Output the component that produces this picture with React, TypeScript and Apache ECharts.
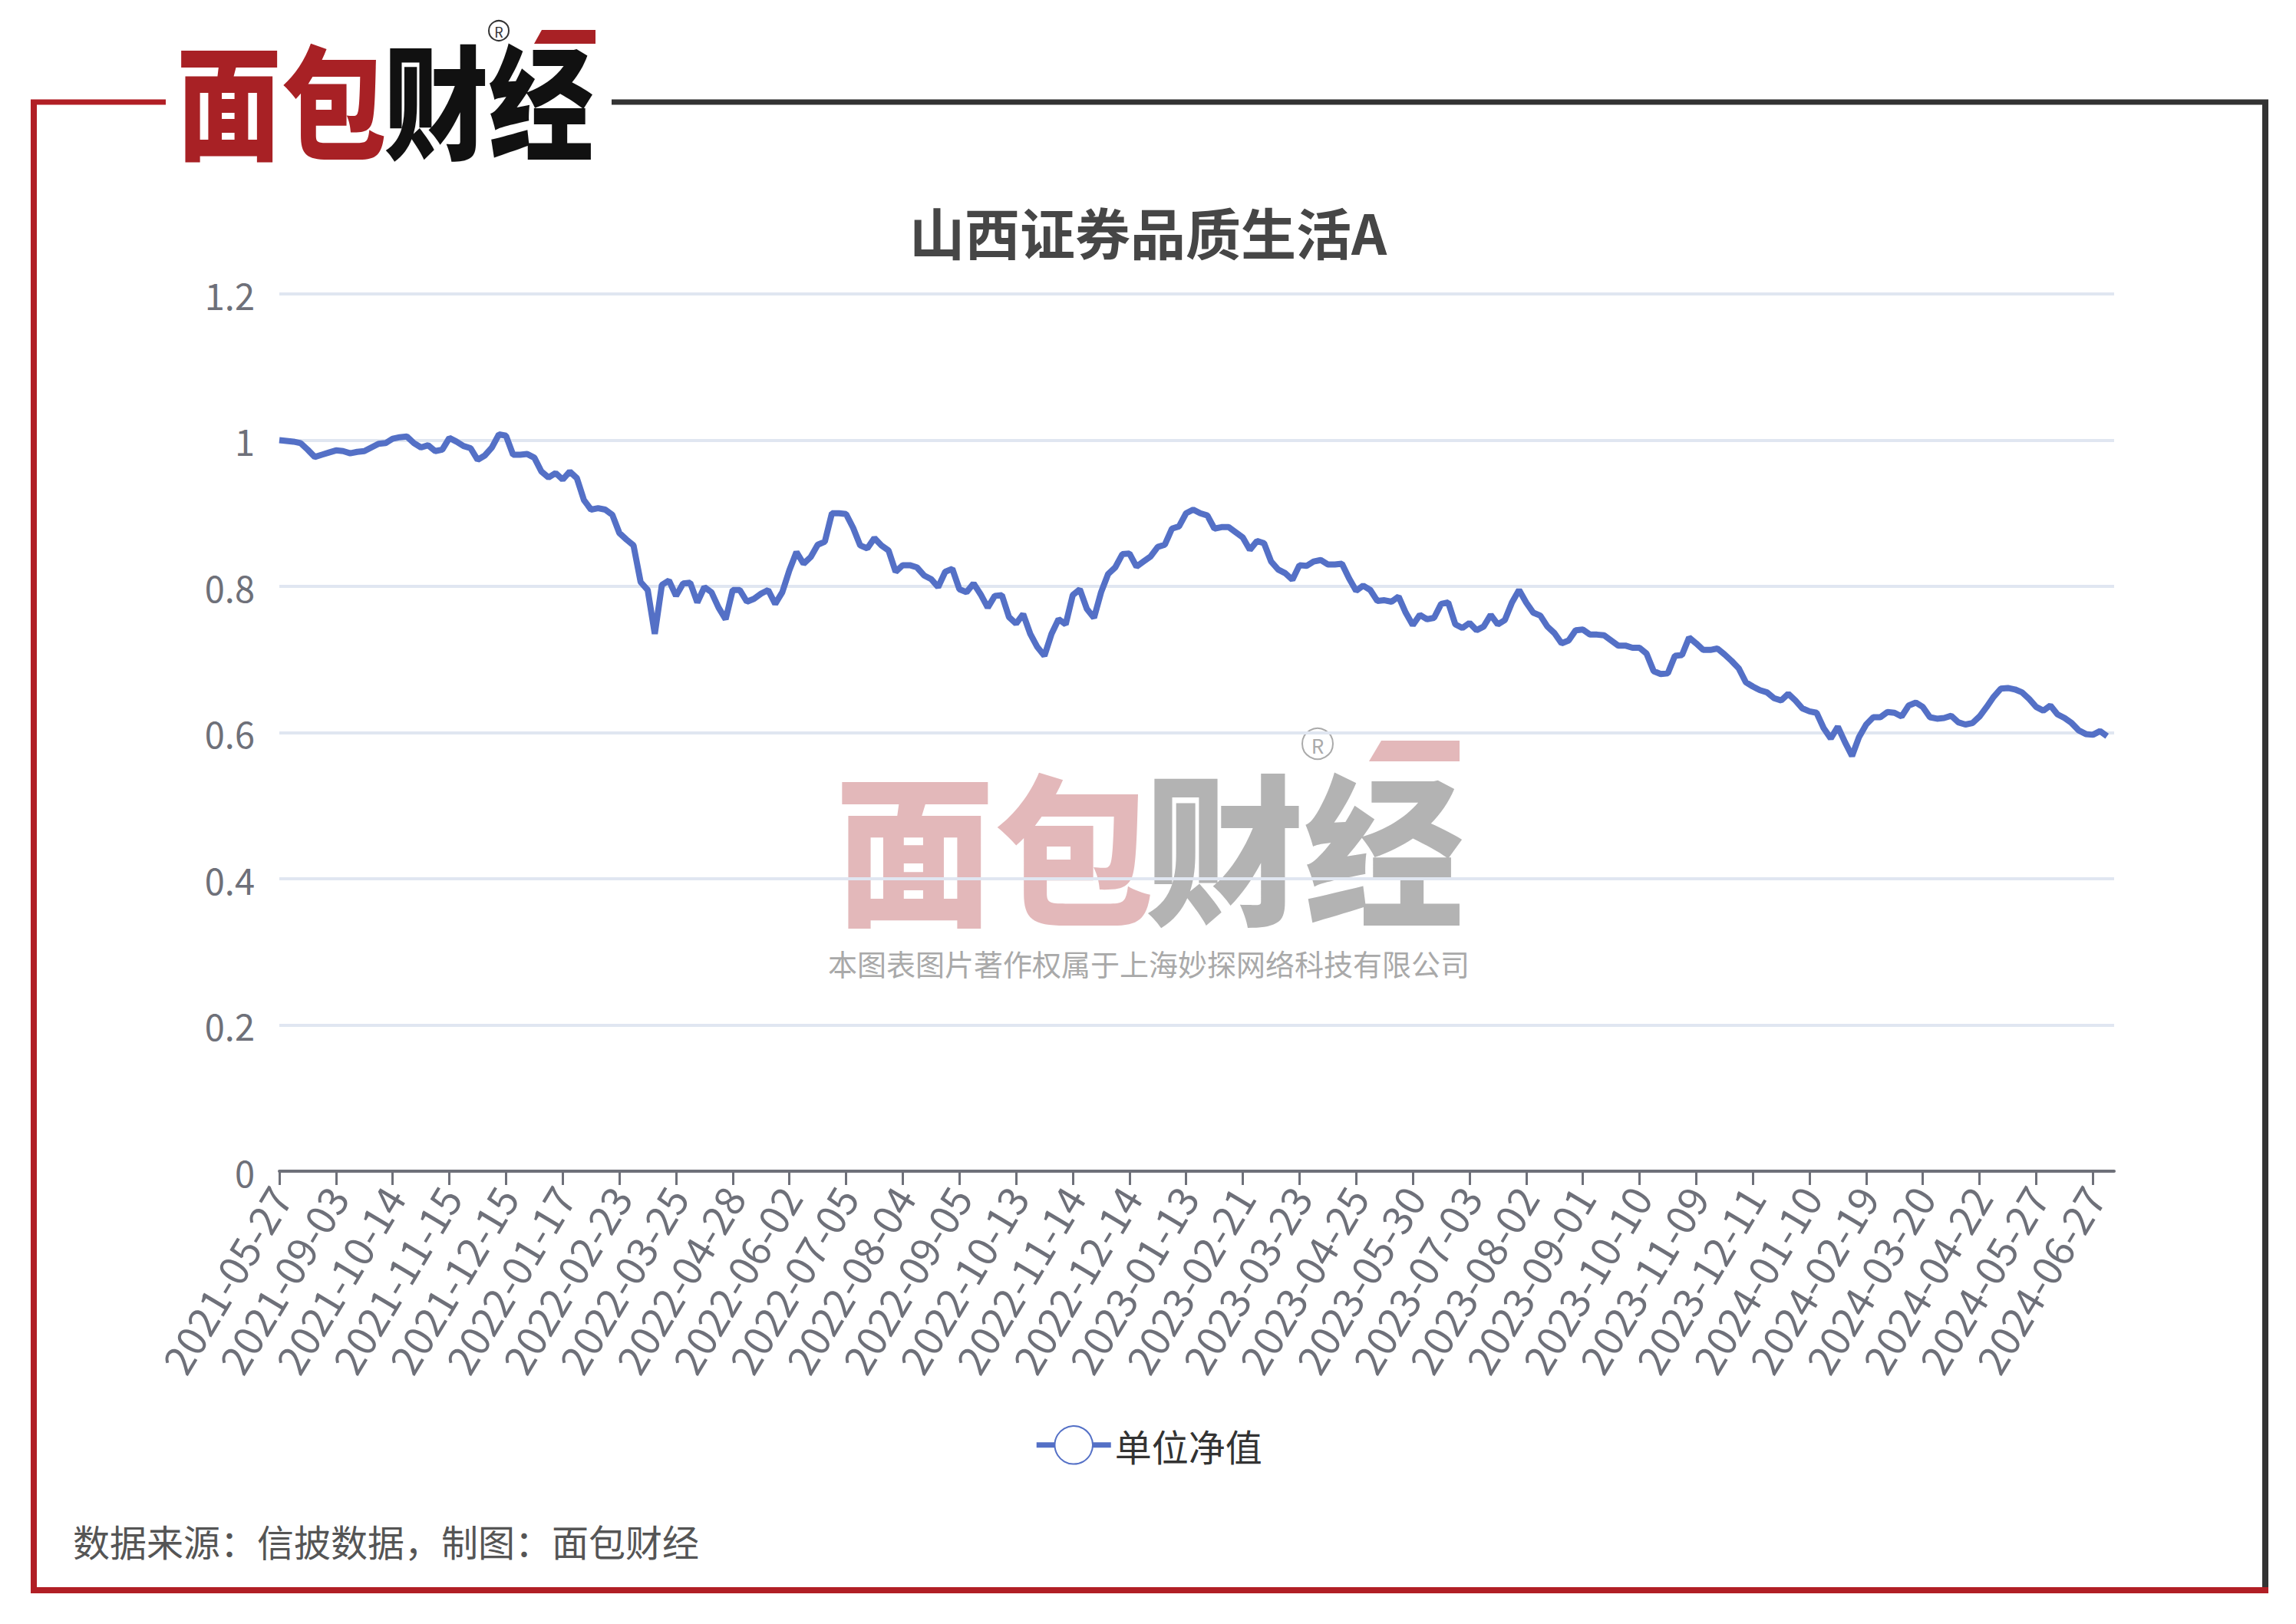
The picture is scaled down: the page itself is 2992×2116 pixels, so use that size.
import React, { useEffect, useRef } from 'react';
import * as echarts from 'echarts';

const chartTitle = '山西证券品质生活A';
const seriesName = '单位净值';
const sourceNote = '数据来源：信披数据，制图：面包财经';
const watermarkNote = '本图表图片著作权属于上海妙探网络科技有限公司';

const tickLabels = [
  '2021-05-27', '2021-09-03', '2021-10-14', '2021-11-15', '2021-12-15', '2022-01-17',
  '2022-02-23', '2022-03-25', '2022-04-28', '2022-06-02', '2022-07-05', '2022-08-04',
  '2022-09-05', '2022-10-13', '2022-11-14', '2022-12-14', '2023-01-13', '2023-02-21',
  '2023-03-23', '2023-04-25', '2023-05-30', '2023-07-03', '2023-08-02', '2023-09-01',
  '2023-10-10', '2023-11-09', '2023-12-11', '2024-01-10', '2024-02-19', '2024-03-20',
  '2024-04-22', '2024-05-27', '2024-06-27',
];
const pointsPerTick = 8;

const yMin = 0;
const yMax = 1.2;
const yStep = 0.2;

const navValues: (number | null)[] = [
  1.000, 0.999, 0.998, 0.996, 0.987, 0.977, 0.980, 0.983, 0.986, 0.985,
  0.982, 0.984, 0.985, 0.990, 0.995, 0.996, 1.002, 1.004, 1.005, 0.996,
  0.990, 0.993, 0.985, 0.987, 1.003, 0.998, 0.992, 0.989, 0.973, 0.979,
  0.990, 1.008, 1.006, 0.980, 0.980, 0.981, 0.976, 0.957, 0.949, 0.955,
  0.946, 0.957, 0.948, 0.918, 0.905, 0.907, 0.905, 0.898, 0.873, 0.864,
  0.856, 0.806, 0.795, 0.735, 0.802, 0.808, 0.787, 0.804, 0.805, 0.778,
  0.799, 0.792, 0.771, 0.755, 0.795,
  0.795, 0.779, 0.783, 0.790, 0.795, 0.776, 0.792, 0.822, 0.847, 0.831,
  0.840, 0.857, 0.861, 0.900, 0.900, 0.899, 0.880, 0.856, 0.852, 0.866,
  0.856, 0.849, 0.820, 0.829, 0.829, 0.826, 0.815, 0.810, 0.799, 0.820,
  0.824, 0.796, 0.792, 0.804, 0.789, 0.771, 0.787, 0.788, 0.758, 0.749,
  0.762, 0.735, 0.717, 0.705, 0.735, 0.755, 0.748, 0.788, 0.796, 0.769,
  0.757, 0.792, 0.817, 0.826, 0.844, 0.845, 0.827, 0.834, 0.841, 0.854,
  0.857, 0.879, 0.882, 0.900, 0.905,
  0.900, 0.897, 0.879, 0.881, 0.881, 0.874, 0.867, 0.850, 0.862, 0.859,
  0.834, 0.823, 0.818, 0.809, 0.829, 0.828, 0.834, 0.836, 0.830, 0.830,
  0.831, 0.811, 0.794, 0.801, 0.795, 0.780, 0.781, 0.779, 0.786, 0.764,
  0.747, 0.761, 0.755, 0.757, 0.776, 0.778, 0.748, 0.743, 0.750, 0.740,
  0.745, 0.761, 0.748, 0.754, 0.778, 0.795, 0.778, 0.764, 0.760, 0.745,
  0.736, 0.722, 0.726, 0.740, 0.741, 0.734, 0.734, 0.733, 0.726, 0.719,
  0.719, 0.716, 0.716, 0.708, 0.684,
  0.680, 0.681, 0.705, 0.706, 0.730, 0.722, 0.713, 0.713, 0.715, 0.707,
  0.698, 0.688, 0.669, 0.663, 0.658, 0.655, 0.647, 0.644, 0.653, 0.644,
  0.633, 0.629, 0.627, 0.606, 0.592, 0.608, 0.587, 0.568, 0.594, 0.611,
  0.621, 0.621, 0.628, 0.627, 0.622, 0.637, 0.641, 0.635, 0.621, 0.619,
  0.620, 0.623, 0.614, 0.611, 0.613, 0.622, 0.635, 0.649, 0.660, 0.661,
  0.659, 0.655, 0.646, 0.635, 0.630, 0.637, 0.625, 0.620, 0.613, 0.603,
  0.598, 0.597, 0.602, 0.595, null,
];

const categories = navValues.map((_, i) =>
  i % pointsPerTick === 0 && tickLabels[i / pointsPerTick] ? tickLabels[i / pointsPerTick] : ''
);

const FONT = '"Noto Sans CJK SC", "Noto Sans", sans-serif';
const RED = '#b11f25';
const DARK = '#333333';
const LINE_BLUE = '#5470c6';

export default function App() {
  const ref = useRef<HTMLDivElement>(null);

  useEffect(() => {
    if (!ref.current) return;
    const chart = echarts.init(ref.current, null, { renderer: 'svg' });

    const option: any = {
      animation: false,
      backgroundColor: '#ffffff',
      textStyle: { fontFamily: FONT },
      title: {
        text: chartTitle,
        left: 'center',
        top: 264,
        padding: 0,
        textStyle: { fontSize: 72, fontWeight: 'bold', color: '#464646', fontFamily: FONT },
      },
      legend: {
        data: [seriesName],
        left: 'center',
        top: 1852,
        itemWidth: 97,
        itemHeight: 62,
        itemGap: 20,
        lineStyle: { width: 7 },
        itemStyle: { borderWidth: 7 },
        textStyle: { fontSize: 48, color: '#333', fontFamily: FONT },
      },
      grid: { left: 364, right: 237, top: 383, bottom: 590, containLabel: false },
      xAxis: {
        type: 'category',
        boundaryGap: false,
        data: categories,
        axisLine: { lineStyle: { color: '#6E7079', width: 4 } },
        axisTick: { interval: pointsPerTick - 1, length: 18, lineStyle: { width: 3, color: '#6E7079' } },
        axisLabel: {
          interval: pointsPerTick - 1,
          rotate: 59,
          fontSize: 53,
          color: '#6E7079',
          margin: 24,
          fontFamily: FONT,
        },
        splitLine: { show: false },
      },
      yAxis: {
        type: 'value',
        min: yMin,
        max: yMax,
        interval: yStep,
        axisLine: { show: false },
        axisTick: { show: false },
        axisLabel: { fontSize: 47, color: '#6E7079', margin: 32, fontFamily: FONT },
        splitLine: { lineStyle: { color: '#E0E6F1', width: 4 } },
      },
      series: [
        {
          name: seriesName,
          type: 'line',
          data: navValues,
          showSymbol: false,
          symbol: 'emptyCircle',
          symbolSize: 16,
          connectNulls: false,
          lineStyle: { width: 8, color: LINE_BLUE },
          itemStyle: { color: LINE_BLUE, borderWidth: 7 },
          z: 5,
        },
      ],
      graphic: [
        // frame
        { type: 'line', shape: { x1: 40, y1: 133, x2: 216, y2: 133 }, style: { stroke: RED, lineWidth: 7 } },
        { type: 'line', shape: { x1: 44, y1: 130, x2: 44, y2: 2076 }, style: { stroke: RED, lineWidth: 8 } },
        { type: 'line', shape: { x1: 797, y1: 133, x2: 2956, y2: 133 }, style: { stroke: DARK, lineWidth: 7 } },
        { type: 'line', shape: { x1: 2952, y1: 130, x2: 2952, y2: 2070 }, style: { stroke: DARK, lineWidth: 8 } },
        { type: 'line', shape: { x1: 40, y1: 2072, x2: 2956, y2: 2072 }, style: { stroke: RED, lineWidth: 8 } },
        // top logo
        {
          type: 'group',
          x: 230,
          y: 126,
          scaleX: 0.9,
          scaleY: 1.06,
          children: [
            { type: 'text', x: 0, y: 0, style: { text: '面包', fontSize: 152, lineHeight: 140, fontWeight: 900, fontFamily: FONT, fill: '#a82125', textVerticalAlign: 'middle' } },
            { type: 'text', x: 300, y: 0, style: { text: '财经', fontSize: 152, lineHeight: 140, fontWeight: 900, fontFamily: FONT, fill: '#111111', textVerticalAlign: 'middle' } },
          ],
        },
        { type: 'circle', shape: { cx: 650, cy: 40, r: 13 }, style: { fill: '#fff', stroke: '#333', lineWidth: 2 } },
        { type: 'text', x: 650, y: 41, style: { text: 'R', fontSize: 18, fontFamily: FONT, fill: '#333', textAlign: 'center', textVerticalAlign: 'middle' } },
        { type: 'polygon', shape: { points: [[706, 39], [776, 39], [776, 57], [696, 57]] }, style: { fill: '#a82125' } },
        // watermark
        {
          type: 'group',
          x: 1088,
          y: 1098,
          scaleX: 0.98,
          children: [
            { type: 'text', x: 0, y: 0, style: { text: '面包', fontSize: 212, lineHeight: 180, fontWeight: 900, fontFamily: FONT, fill: 'rgba(185,77,82,0.4)', textVerticalAlign: 'middle' } },
            { type: 'text', x: 412, y: 0, style: { text: '财经', fontSize: 212, lineHeight: 180, fontWeight: 900, fontFamily: FONT, fill: 'rgba(110,110,110,0.52)', textVerticalAlign: 'middle' } },
          ],
        },
        { type: 'circle', shape: { cx: 1717, cy: 969, r: 20 }, style: { fill: 'none', stroke: '#aaaaaa', lineWidth: 2 } },
        { type: 'text', x: 1717, y: 970, style: { text: 'R', fontSize: 26, fontFamily: FONT, fill: '#aaaaaa', textAlign: 'center', textVerticalAlign: 'middle' } },
        { type: 'polygon', shape: { points: [[1800, 965], [1902, 965], [1902, 992], [1784, 992]] }, style: { fill: 'rgba(185,77,82,0.4)' } },
        { type: 'text', x: 1497, y: 1254, style: { text: watermarkNote, fontSize: 38, lineHeight: 40, fontFamily: FONT, fill: '#a9a9a9', textAlign: 'center', textVerticalAlign: 'middle' } },
        // footer
        { type: 'text', x: 95, y: 2007, style: { text: sourceNote, fontSize: 48, fontFamily: FONT, fill: '#555555', textVerticalAlign: 'middle' } },
      ],
    };

    chart.setOption(option);
    return () => chart.dispose();
  }, []);

  return (
    <div
      ref={ref}
      style={{ position: 'fixed', left: 0, top: 0, width: 2992, height: 2116, background: '#fff' }}
    />
  );
}
